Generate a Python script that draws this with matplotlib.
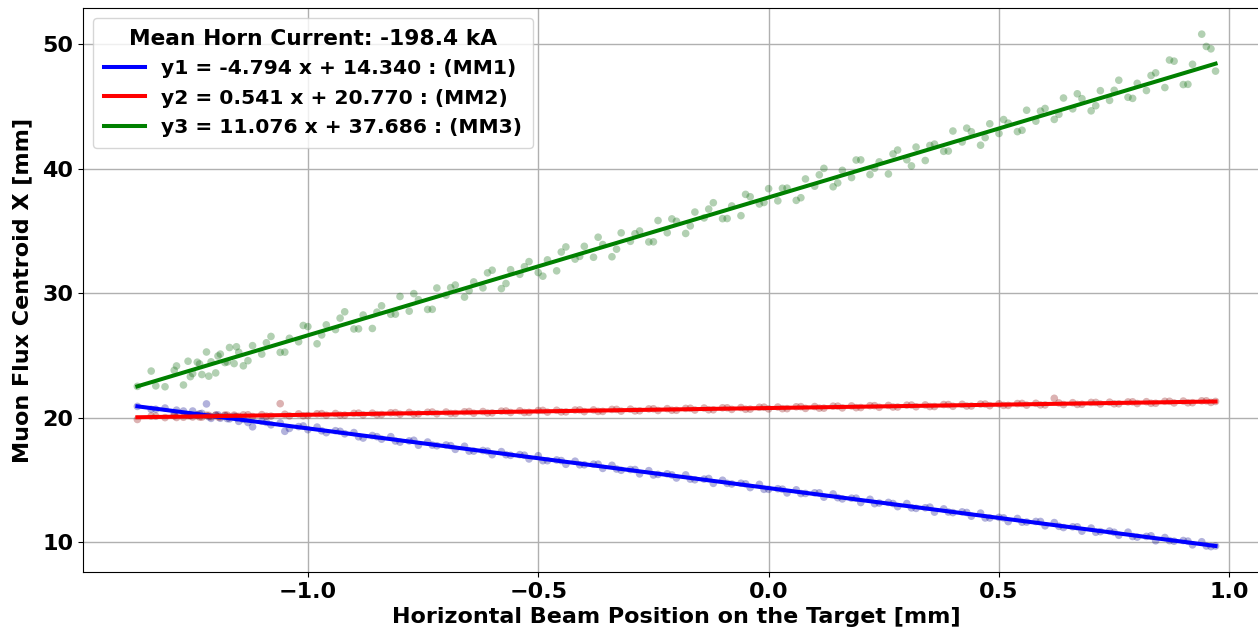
import matplotlib
matplotlib.use("Agg")
import matplotlib.pyplot as plt
import numpy as np

# Horizontal beam position on the target [mm]
beam_x = [-1.37, -1.34, -1.31, -1.29, -1.27, -1.26, -1.25, -1.24, -1.23, -1.22,
          -1.21, -1.20, -1.19, -1.18, -1.17, -1.16, -1.15, -1.14, -1.12, -1.10,
          -1.08, -1.06, -1.04, -1.02, -1.00, -0.98, -0.96, -0.94, -0.92, -0.90,
          -0.88, -0.86, -0.84, -0.82, -0.80, -0.78, -0.76, -0.74, -0.72, -0.70,
          -0.68, -0.66, -0.64, -0.62, -0.60, -0.58, -0.56, -0.54, -0.52, -0.50,
          -0.48, -0.46, -0.44, -0.42, -0.40, -0.38, -0.36, -0.34, -0.32, -0.30,
          -0.28, -0.26, -0.24, -0.22, -0.20, -0.18, -0.16, -0.14, -0.12, -0.10,
          -0.08, -0.06, -0.04, -0.02, 0.00, 0.02, 0.04, 0.06, 0.08, 0.10,
          0.12, 0.14, 0.16, 0.18, 0.20, 0.22, 0.24, 0.26, 0.28, 0.30,
          0.32, 0.34, 0.36, 0.38, 0.40, 0.42, 0.44, 0.46, 0.48, 0.50,
          0.52, 0.54, 0.56, 0.58, 0.60, 0.62, 0.64, 0.66, 0.68, 0.70,
          0.72, 0.74, 0.76, 0.78, 0.80, 0.82, 0.84, 0.86, 0.88, 0.90,
          0.92, 0.94, 0.96, 0.97,
          -1.33, -1.285, -1.255, -1.235, -1.215, -1.195, -1.175, -1.155, -1.13, -1.09,
          -1.05, -1.01, -0.97, -0.93, -0.89, -0.85, -0.81, -0.77, -0.73, -0.69,
          -0.65, -0.61, -0.57, -0.53, -0.49, -0.45, -0.41, -0.37, -0.33, -0.29,
          -0.25, -0.21, -0.17, -0.13, -0.09, -0.05, -0.01, 0.03, 0.07, 0.11,
          0.15, 0.19, 0.23, 0.27, 0.31, 0.35, 0.39, 0.43, 0.47, 0.51,
          0.55, 0.59, 0.63, 0.67, 0.71, 0.75, 0.79, 0.83, 0.87, 0.91,
          0.95]

# Muon flux centroid X [mm] measured by each muon monitor
mm1_y = [20.90, 20.66, 20.77, 20.32, 20.53, 20.23, 20.53, 20.23, 20.34, 21.10,
         19.94, 20.19, 19.95, 20.15, 19.90, 20.10, 19.70, 19.86, 19.26, 19.71,
         19.42, 19.57, 19.13, 19.28, 19.03, 19.24, 18.79, 18.95, 18.70, 18.80,
         18.36, 18.56, 18.27, 18.47, 18.03, 18.13, 17.78, 18.04, 17.74, 17.80,
         17.45, 17.70, 17.31, 17.36, 17.02, 17.27, 16.97, 17.03, 16.68, 16.94,
         16.54, 16.60, 16.25, 16.50, 16.21, 16.26, 15.92, 16.17, 15.77, 15.83,
         15.48, 15.74, 15.44, 15.49, 15.15, 15.40, 15.01, 15.06, 14.72, 14.97,
         14.67, 14.73, 14.38, 14.64, 14.24, 14.29, 13.95, 14.20, 13.91, 13.96,
         13.61, 13.87, 13.47, 13.53, 13.18, 13.44, 13.14, 13.19, 12.85, 13.10,
         12.71, 12.76, 12.41, 12.67, 12.37, 12.43, 12.08, 12.33, 11.94, 11.99,
         11.65, 11.90, 11.61, 11.66, 11.31, 11.57, 11.17, 11.23, 10.88, 11.13,
         10.84, 10.89, 10.55, 10.80, 10.40, 10.46, 10.11, 10.37, 10.07, 10.13,
         9.78, 10.03, 9.64, 9.69,
         20.67, 20.60, 20.21, 20.31, 20.07, 20.22, 19.92, 19.98, 19.61, 19.62,
         18.90, 19.33, 18.94, 18.90, 18.46, 18.47, 18.12, 18.18, 17.79, 17.75,
         17.31, 17.31, 17.02, 16.98, 16.54, 16.55, 16.21, 16.26, 15.87, 15.83,
         15.39, 15.40, 15.06, 15.11, 14.72, 14.68, 14.24, 14.25, 13.90, 13.96,
         13.57, 13.53, 13.09, 13.10, 12.75, 12.81, 12.42, 12.38, 11.94, 11.95,
         11.60, 11.66, 11.27, 11.23, 10.79, 10.79, 10.45, 10.51, 10.12, 10.08,
         9.69]

mm2_y = [19.85, 20.12, 20.00, 20.15, 20.03, 20.16, 20.05, 20.18, 20.04, 20.19,
         20.07, 20.20, 20.06, 20.21, 20.08, 20.20, 20.10, 20.22, 20.09, 20.24,
         20.12, 21.12, 20.14, 20.30, 20.17, 20.31, 20.19, 20.33, 20.20, 20.34,
         20.22, 20.36, 20.25, 20.39, 20.27, 20.42, 20.30, 20.43, 20.31, 20.45,
         20.33, 20.47, 20.35, 20.49, 20.38, 20.52, 20.41, 20.55, 20.42, 20.57,
         20.44, 20.59, 20.46, 20.61, 20.48, 20.62, 20.50, 20.66, 20.52, 20.68,
         20.55, 20.70, 20.57, 20.72, 20.59, 20.74, 20.61, 20.77, 20.63, 20.79,
         20.66, 20.81, 20.68, 20.83, 20.70, 20.85, 20.72, 20.87, 20.74, 20.89,
         20.76, 20.92, 20.78, 20.94, 20.81, 20.96, 20.83, 20.98, 20.85, 21.00,
         20.87, 21.02, 20.89, 21.05, 20.91, 21.07, 20.93, 21.09, 20.96, 21.11,
         20.98, 21.13, 21.00, 21.15, 21.02, 21.55, 21.05, 21.20, 21.07, 21.22,
         21.09, 21.24, 21.11, 21.26, 21.13, 21.28, 21.15, 21.31, 21.18, 21.33,
         21.20, 21.35, 21.22, 21.30,
         20.11, 20.01, 20.16, 20.05, 20.18, 20.06, 20.20, 20.09, 20.23, 20.12,
         20.27, 20.15, 20.32, 20.20, 20.36, 20.24, 20.40, 20.28, 20.45, 20.33,
         20.49, 20.37, 20.53, 20.41, 20.58, 20.46, 20.62, 20.50, 20.66, 20.54,
         20.71, 20.59, 20.75, 20.63, 20.79, 20.67, 20.84, 20.72, 20.88, 20.76,
         20.92, 20.80, 20.96, 20.85, 21.01, 20.89, 21.05, 20.93, 21.09, 20.98,
         21.14, 21.02, 21.18, 21.06, 21.22, 21.11, 21.27, 21.15, 21.31, 21.19,
         21.35]

mm3_y = [22.51, 23.74, 22.48, 23.80, 22.62, 24.53, 23.54, 24.45, 23.46, 25.27,
         24.48, 23.59, 25.10, 24.42, 25.63, 24.34, 25.25, 24.16, 25.78, 25.10,
         26.52, 25.24, 26.37, 26.09, 27.31, 25.93, 27.45, 27.07, 28.50, 27.12,
         28.24, 27.16, 28.98, 28.30, 29.73, 28.55, 29.47, 28.69, 30.41, 29.83,
         30.65, 29.68, 30.90, 30.42, 31.84, 30.36, 31.88, 31.51, 32.53, 31.65,
         32.67, 31.79, 33.71, 32.73, 33.76, 32.88, 33.90, 32.92, 34.84, 34.16,
         34.99, 34.11, 35.83, 34.85, 35.77, 34.79, 36.51, 36.04, 37.26, 35.98,
         37.00, 36.22, 37.74, 37.16, 38.39, 37.41, 38.43, 37.45, 39.17, 38.59,
         40.02, 38.54, 39.86, 39.28, 40.70, 39.52, 40.54, 39.57, 41.49, 40.71,
         41.73, 40.65, 41.97, 41.39, 43.02, 42.14, 42.96, 41.88, 43.60, 42.82,
         43.65, 42.97, 44.69, 43.81, 44.83, 43.95, 45.67, 44.80, 45.62, 44.64,
         46.26, 45.48, 47.10, 45.73, 46.85, 46.27, 47.69, 46.51, 48.63, 46.75,
         48.38, 50.80, 49.62, 47.83,
         22.55, 24.15, 23.29, 24.31, 23.33, 24.95, 24.47, 25.69, 24.57, 26.01,
         25.26, 27.40, 26.64, 27.99, 27.13, 28.47, 28.31, 29.96, 28.70, 30.44,
         30.19, 31.63, 30.77, 32.12, 31.36, 33.30, 32.95, 34.49, 33.53, 34.77,
         34.12, 35.96, 35.40, 36.75, 35.99, 37.93, 37.28, 38.42, 37.66, 39.50,
         38.85, 40.69, 40.03, 41.18, 40.22, 41.86, 41.41, 43.25, 42.49, 43.94,
         43.08, 44.62, 44.36, 46.01, 45.05, 46.29, 45.64, 47.48, 48.72, 46.77,
         49.81]

# Linear fit results for each monitor
monitors = ["MM1", "MM2", "MM3"]
slopes = [-4.794, 0.541, 11.076]
intercepts = [14.340, 20.770, 37.686]
line_colors = ["blue", "red", "green"]
point_colors = ["darkblue", "darkred", "darkgreen"]
mean_horn_current = -198.4

fig = plt.figure(figsize=(12.58, 6.35), dpi=100)
ax = fig.add_axes([83 / 1258, 63 / 635, 1186 / 1258, 564 / 635])

x = np.array(beam_x)
series = [np.array(mm1_y), np.array(mm2_y), np.array(mm3_y)]

for y, pc in zip(series, point_colors):
    ax.scatter(x, y, s=30, color=pc, alpha=0.3, edgecolors="none", zorder=2)

xfit = np.array([x.min(), x.max()])
for i, (m, b, lc, name) in enumerate(zip(slopes, intercepts, line_colors, monitors)):
    ax.plot(xfit, m * xfit + b, color=lc, lw=2.9, zorder=3,
            label=f"y{i + 1} = {m:.3f} x + {b:.3f} : ({name})")

ax.set_xlim(-1.488, 1.086)
ax.set_ylim(7.6, 52.9)
ax.set_xticks([-1.0, -0.5, 0.0, 0.5, 1.0])
ax.set_yticks([10, 20, 30, 40, 50])
ax.grid(True, color="#b0b0b0", lw=1.0, zorder=0)
ax.set_axisbelow(True)

for lab in ax.get_xticklabels() + ax.get_yticklabels():
    lab.set_fontsize(16)
    lab.set_fontweight("bold")

ax.set_xlabel("Horizontal Beam Position on the Target [mm]", fontsize=16,
              fontweight="bold", labelpad=4)
ax.set_ylabel("Muon Flux Centroid X [mm]", fontsize=16, fontweight="bold",
              labelpad=7)

leg = ax.legend(loc="upper left", title=f"Mean Horn Current: {mean_horn_current} kA",
                prop={"size": 14.6, "weight": "bold"},
                title_fontproperties={"size": 15.7, "weight": "bold"},
                handlelength=2.0, borderaxespad=0.5, labelspacing=0.5,
                borderpad=0.55)

fig.savefig("out.png", dpi=100)
